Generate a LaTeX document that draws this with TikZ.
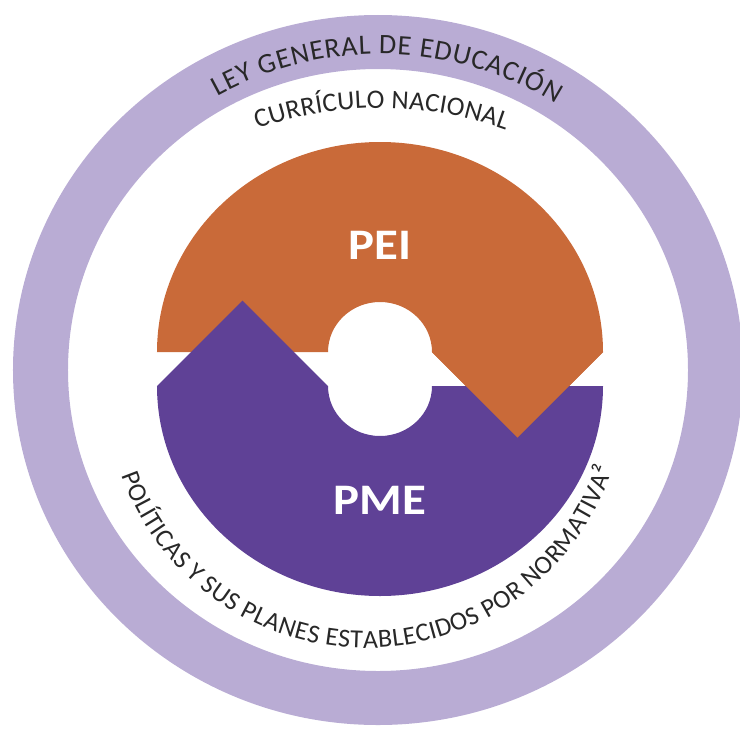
\documentclass[tikz,border=0pt]{standalone}
\usepackage{fontspec}
\setmainfont{Carlito}
\usetikzlibrary{decorations.text}
\definecolor{ringlila}{RGB}{185,172,212}
\definecolor{peiorange}{RGB}{201,106,57}
\definecolor{pmelila}{RGB}{95,65,150}
\definecolor{ringink}{RGB}{40,40,40}

\begin{document}
\begin{tikzpicture}
    [x = .025cm, y = .025cm,
     bigtag/.style = {text = white, font = \fontsize{31}{31}\selectfont\bfseries},
     arctext/.style = {decorate, decoration = {text along path, text align = fit to path, text color = ringink}}]
    \useasboundingbox (-380,-362) rectangle (360,369);
    % outer ring
    \fill[ringlila, even odd rule] (-2,-1) ellipse [x radius = 365, y radius = 355]
                                   (-2,-1) ellipse [x radius = 310, y radius = 301];
    % the two halves
    \fill[peiorange] (223,17) arc [start angle = 0, end angle = 180, x radius = 223, y radius = 210]
      -- (-52,17) arc [start angle = 180, end angle = 0, x radius = 52, y radius = 50]
      -- (137.5,-68.5) -- cycle;
    \fill[pmelila] (-223,-17) arc [start angle = 180, end angle = 360, x radius = 223, y radius = 210]
      -- (52,-17) arc [start angle = 0, end angle = -180, x radius = 52, y radius = 50]
      -- (-137.5,68.5) -- cycle;
    \fill[peiorange] (52,17) -- (137.5,-68.5) -- (223,17) -- cycle;
    \node[bigtag] (pei) at (0,124) {\scalebox{1.12}[1]{PEI}};
    \node[bigtag] (pme) at (0,-131) {\scalebox{1.12}[1]{PME}};
    % texts on the arcs
    \path[arctext, decoration = {text = {|\fontsize{20}{20}\selectfont|LEY GENERAL DE EDUCACIÓN}}, shift = {(0,-21)}]
      (119:336) arc [start angle = 119, end angle = 58.5, radius = 336];
    \path[arctext, decoration = {text = {|\fontsize{19}{19}\selectfont|CURRÍCULO NACIONAL}}, shift = {(0,-106)}]
      (109.5:367) arc [start angle = 109.5, end angle = 70, radius = 367];
    \path[arctext, decoration = {text = {|\fontsize{18.5}{18.5}\selectfont|POLÍTICAS Y SUS PLANES ESTABLECIDOS POR NORMATIV{A²}}}, shift = {(-14,-20)}]
      (199.5:259) arc [start angle = 199.5, end angle = 342, radius = 259];
\end{tikzpicture}
\end{document}
